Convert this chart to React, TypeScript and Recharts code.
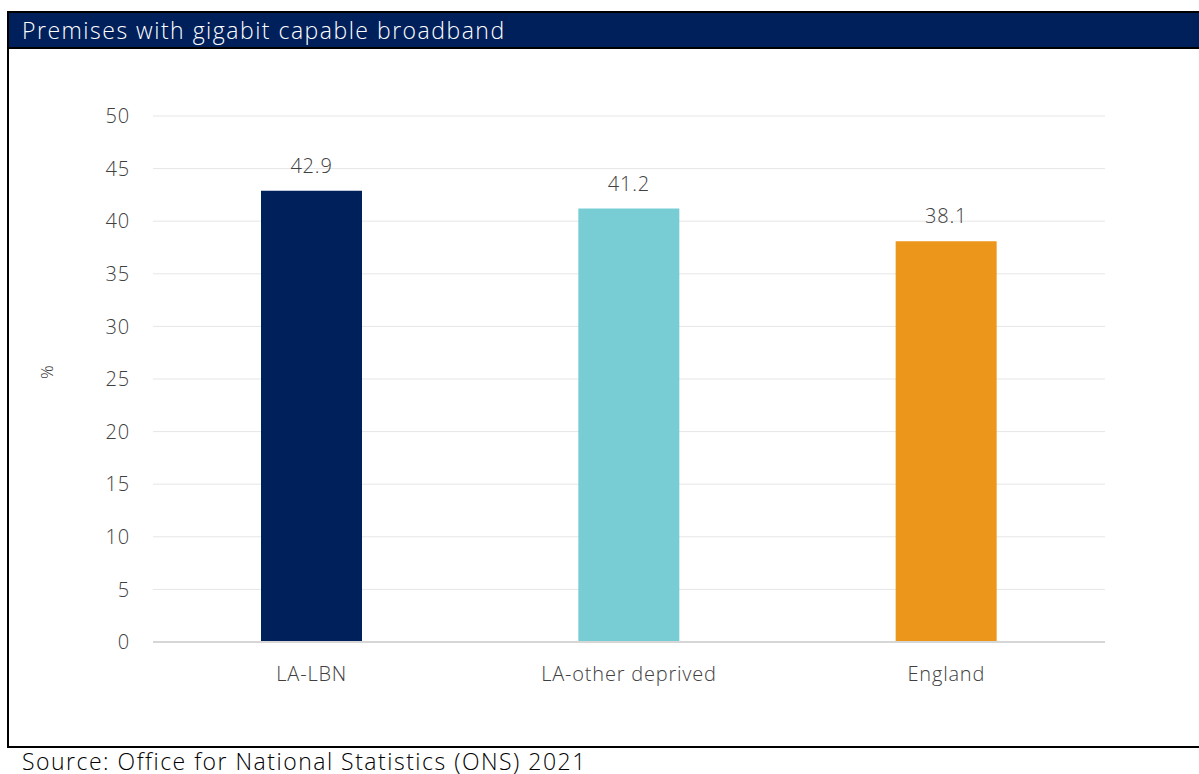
import React from "react";
import { BarChart, Bar, XAxis, YAxis, CartesianGrid, LabelList, Cell, ReferenceLine } from "recharts";

const categories = ["LA-LBN", "LA-other deprived", "England"];
const values = [42.9, 41.2, 38.1];
const colors = ["#00205C", "#78CDD5", "#EC961B"];
const yTicks = [0, 5, 10, 15, 20, 25, 30, 35, 40, 45, 50];
const title = "Premises with gigabit capable broadband";
const source = "Source: Office for National Statistics (ONS) 2021";

const data = categories.map((c, i) => ({ name: c, value: values[i] }));

const FONT = "'Open Sans', Lato, sans-serif";
const txt = { fill: "#404040", fontSize: 20, fontFamily: FONT, fontWeight: 300, letterSpacing: 0.8 };

export default function App() {
  return (
    <div style={{ position: "absolute", left: 0, top: 0, width: 1199, height: 774, background: "#fff", overflow: "hidden", fontFamily: FONT }}>
      <div style={{ position: "absolute", left: 7, top: 11, width: 1210, height: 733, border: "2px solid #000", boxSizing: "content-box" }} />
      <div style={{ position: "absolute", left: 9, top: 13, width: 1200, height: 34, background: "#00205C", borderBottom: "2px solid #000" }} />
      <div style={{ position: "absolute", left: 22, top: 13, height: 34, lineHeight: "34px", color: "#fff", fontSize: 23, fontWeight: 300, letterSpacing: 1.5, whiteSpace: "nowrap" }}>{title}</div>
      <div style={{ position: "absolute", left: 22, top: 748, lineHeight: "26px", color: "#000", fontSize: 23, fontWeight: 300, letterSpacing: 1.5, whiteSpace: "nowrap" }}>{source}</div>
      <div style={{ position: "absolute", left: 0, top: 0 }}>
        <BarChart width={1199} height={774} data={data} margin={{ top: 116, right: 94, bottom: 72, left: 0 }} barCategoryGap={108}>
          <CartesianGrid vertical={false} stroke="#e6e6e6" />
          <XAxis dataKey="name" axisLine={false} tickLine={false} tickSize={0} tickMargin={25} height={60} tick={txt} />
          <YAxis domain={[0, 50]} ticks={yTicks} axisLine={false} tickLine={false} tickSize={0} tickMargin={23} width={153} tick={txt}
            label={{ value: "%", angle: -90, position: "insideLeft", offset: 47, dy: 0, style: { fill: "#404040", fontSize: 17, fontFamily: FONT, fontWeight: 300 } }} />
          <ReferenceLine y={0} stroke="#d6d6d6" strokeWidth={2} />
          <Bar dataKey="value" isAnimationActive={false}>
            {data.map((d, i) => (<Cell key={d.name} fill={colors[i]} />))}
            <LabelList dataKey="value" position="top" offset={18} style={txt} />
          </Bar>
        </BarChart>
      </div>
    </div>
  );
}
